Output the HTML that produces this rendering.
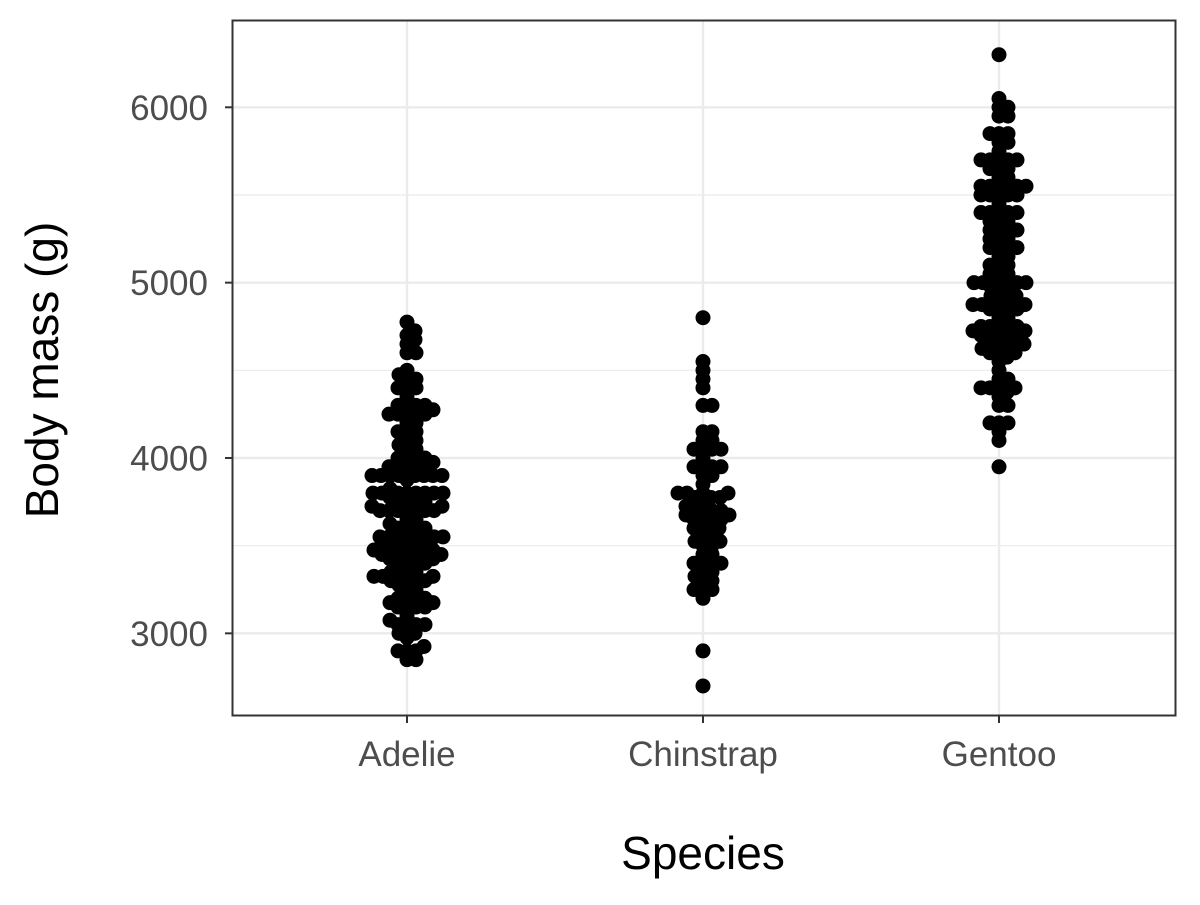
<!DOCTYPE html>
<html><head><meta charset="utf-8"><style>
body{margin:0;background:#fff}
svg text{font-family:"Liberation Sans",Arial,sans-serif}
</style></head><body>
<svg id="chart" width="1200" height="900">
<rect x="0" y="0" width="1200" height="900" fill="#fff"/>
<g id="grid"></g>
<g id="pts"></g>
<rect x="232.5" y="20.5" width="943" height="695" fill="none" stroke="#333" stroke-width="2"/>
<g id="axes"></g>
<text x="703" y="869" text-anchor="middle" font-size="46" fill="#000">Species</text>
<text transform="translate(58,370) rotate(-90)" text-anchor="middle" font-size="46" fill="#000">Body mass (g)</text>
</svg>
<script>
const categories=["Adelie","Chinstrap","Gentoo"];
const yTicks=[3000,4000,5000,6000];
const yMinor=[3500,4500,5500];
const adelie=[3750,3800,3250,3450,3650,3625,4675,3475,4250,3300,3700,3200,3800,4400,3700,3450,4500,3325,4200,3400,3600,3800,3950,3800,3800,3550,3200,3150,3950,3250,3900,3300,3900,3325,4150,3950,3550,3300,4650,3150,3900,3100,4400,3000,4600,3425,2975,3450,4150,3500,4300,3450,4050,2900,3700,3550,3800,2850,3750,3150,4400,3600,4050,2850,3950,3350,4100,3050,4450,3600,3900,3550,4150,3700,4250,3700,3900,3550,4000,3200,4700,3800,4200,3350,3550,3800,3500,3950,3600,3550,4300,3400,4450,3300,4300,3700,4350,2900,4100,3725,4725,3075,4250,2925,3550,3750,3900,3175,4775,3825,4600,3200,4275,3900,4075,2900,3775,3350,3325,3150,3500,3450,3875,3050,4000,3275,4300,3050,4000,3325,3500,3500,4475,3425,3900,3175,3975,3400,4250,3400,3475,3050,3725,3000,3650,4250,3475,3450,3750,3700,4000];
const chinstrap=[3500,3900,3650,3525,3725,3950,3250,3750,4150,3700,3800,3775,3700,4050,3575,4050,3300,3700,3450,4400,3600,3400,2900,3800,3300,4150,3400,3800,3700,4550,3200,4300,3350,4100,3600,3900,3850,4800,2700,4500,3950,3650,3550,3500,3675,4450,3400,4300,3250,3675,3325,3950,3600,4050,3350,3450,3250,4050,3800,3525,3950,3650,3650,4000,3400,3775,4100,3775];
const gentoo=[4500,5700,4450,5700,5400,4550,4800,5200,4400,5150,4650,5550,4650,5850,4200,5850,4150,6300,4800,5350,5700,5000,4400,5050,5000,5100,4100,5650,4600,5550,5250,4700,5050,6050,5150,5400,4950,5250,4350,5350,3950,5700,4300,4750,5550,4900,4200,5400,5100,5300,4850,5300,4400,5000,4900,5050,4300,5000,4450,5550,4200,5300,4400,5650,4700,5700,4650,5800,4700,5550,4750,5000,5100,5200,4700,5800,4600,6000,4750,5950,4625,5450,4725,5350,4750,5600,4600,5300,4875,5550,4950,5400,4750,5650,4850,5200,4925,4875,4625,5250,4850,5600,4975,5500,4725,5500,4700,5500,4575,5500,5000,5950,4650,5500,4375,5850,4875,6000,4925,4850,5750,5200,5400];
const series=[adelie,chinstrap,gentoo];
const NS="http://www.w3.org/2000/svg";
function yScale(v){return 458-(v-4000)*0.17535;}
function xScale(i){return 407+i*296;}
function mk(tag,attrs,parent){const e=document.createElementNS(NS,tag);for(const k in attrs)e.setAttribute(k,attrs[k]);parent.appendChild(e);return e;}
const grid=document.getElementById('grid'),axes=document.getElementById('axes'),pts=document.getElementById('pts');
yMinor.forEach(v=>{const l=mk('line',{x1:232,x2:1176,y1:yScale(v),y2:yScale(v),stroke:'#ebebeb','stroke-width':1.2},grid);

});
yTicks.forEach(v=>{const y=yScale(v);const l=mk('line',{x1:232,x2:1176,y1:y,y2:y,stroke:'#ebebeb','stroke-width':2.4},grid);


const t=mk('line',{x1:225,x2:232,y1:y,y2:y,stroke:'#333','stroke-width':2},axes);


const tx=mk('text',{x:208,y:y+12.5,'text-anchor':'end','font-size':'35',fill:'#4d4d4d'},axes);tx.textContent=v;

});
categories.forEach((c,i)=>{const x=xScale(i);const l=mk('line',{x1:x,x2:x,y1:20,y2:716,stroke:'#ebebeb','stroke-width':2.4},grid);


const t=mk('line',{x1:x,x2:x,y1:716,y2:723,stroke:'#333','stroke-width':2},axes);


const tx=mk('text',{x:x,y:766,'text-anchor':'middle','font-size':'35',fill:'#4d4d4d'},axes);tx.textContent=c;

});
const D=8.7;
series.forEach((vals,i)=>{const cx=xScale(i);const sorted=vals.slice().sort((a,b)=>a-b);const placed=[];
sorted.forEach(v=>{const y=yScale(v);let off=0;
for(let k=0;k<200;k++){off=(k%2?1:-1)*Math.ceil(k/2);
if(placed.every(p=>Math.hypot(p[0]-off,p[1]-y)>=D))break;}
placed.push([off,y]);
const c=mk('circle',{cx:cx+off,cy:y,r:7.5,fill:'#000'},pts);

});});
</script>
</body></html>
